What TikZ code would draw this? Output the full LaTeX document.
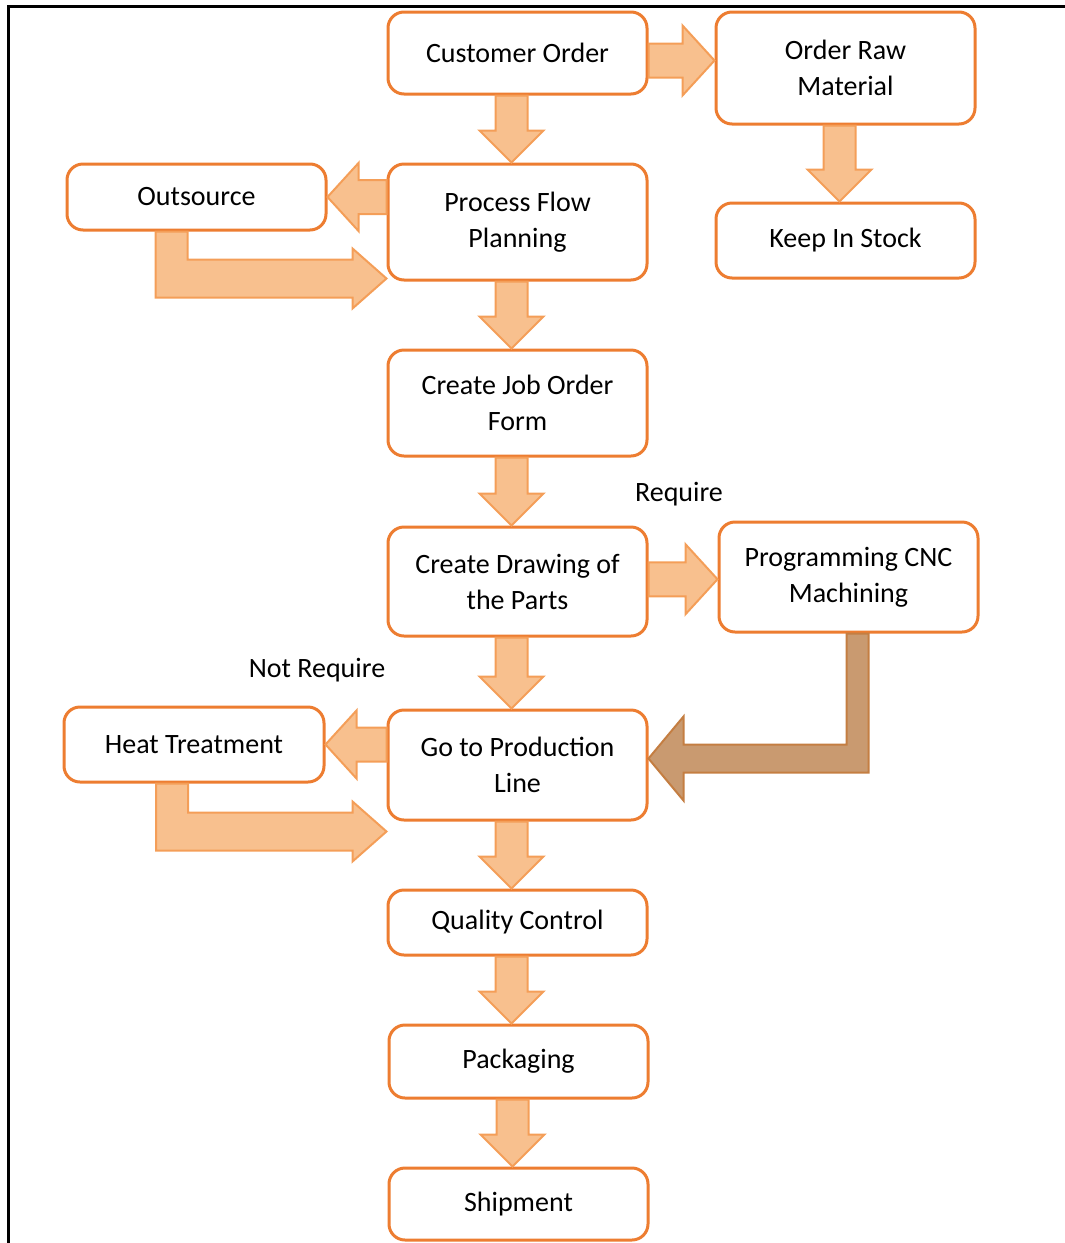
\documentclass[tikz,border=0pt]{standalone}
\usepackage{fontspec}
\setmainfont{Carlito}
\usetikzlibrary{calc}
\definecolor{BoxOrange}{RGB}{237,125,49}
\definecolor{ArrowFill}{RGB}{248,192,142}
\definecolor{ArrowLine}{RGB}{244,158,88}
\definecolor{BackFill}{RGB}{201,154,112}
\definecolor{BackLine}{RGB}{196,126,66}
% block arrows between boxes
\newcommand{\flowdown}[2]{%
\draw[blockarrow] let \p1=($(#1.south)+(-6,0)$), \p2=(#2.north) in
   (\x1-16pt,\y1) -- (\x1-16pt,\y2+32pt) -- (\x1-32pt,\y2+32pt) -- (\x1,\y2)
   -- (\x1+32pt,\y2+32pt) -- (\x1+16pt,\y2+32pt) -- (\x1+16pt,\y1) -- cycle;}
\newcommand{\flowright}[2]{%
\draw[blockarrow] let \p1=(#1.east), \p2=(#2.west), \p3=($(#1.east)!.5!(#2.west)$) in
   (\x1,\y3+17pt) -- (\x2-32pt,\y3+17pt) -- (\x2-32pt,\y3+35pt) -- (\x2,\y3)
   -- (\x2-32pt,\y3-35pt) -- (\x2-32pt,\y3-17pt) -- (\x1,\y3-17pt) -- cycle;}
\newcommand{\flowleft}[2]{%
\draw[blockarrow] let \p1=(#1.west), \p2=(#2.east) in
   (\x1,\y2+17pt) -- (\x2+31pt,\y2+17pt) -- (\x2+31pt,\y2+34pt) -- (\x2,\y2)
   -- (\x2+31pt,\y2-34pt) -- (\x2+31pt,\y2-17pt) -- (\x1,\y2-17pt) -- cycle;}
\newcommand{\flowelbow}[4]{%
\draw[blockarrow] let \p1=($(#1.south)+(#3,0)$), \p2=($(#2.south west)+(0,#4)$) in
   (\x1-16pt,\y1) -- (\x1-16pt,\y2-19pt) -- (\x2-34pt,\y2-19pt) -- (\x2-34pt,\y2-30pt)
   -- (\x2,\y2) -- (\x2-34pt,\y2+30pt) -- (\x2-34pt,\y2+19pt) -- (\x1+16pt,\y2+19pt)
   -- (\x1+16pt,\y1) -- cycle;}
\newcommand{\flowback}[4]{%
\draw[backarrow] let \p1=($(#1.south)+(#3,0)$), \p2=($(#2.east)+(0,#4)$) in
   (\x1-11pt,\y1) -- (\x1-11pt,\y2+14pt) -- (\x2+35pt,\y2+14pt) -- (\x2+35pt,\y2+42pt)
   -- (\x2,\y2) -- (\x2+35pt,\y2-42pt) -- (\x2+35pt,\y2-14pt) -- (\x1+11pt,\y2-14pt)
   -- (\x1+11pt,\y1) -- cycle;}

\begin{document}
\begin{tikzpicture}[x=1pt,y=-1pt,
   box/.style={draw=BoxOrange,line width=3pt,rounded corners=16pt,fill=white,
      minimum width=259pt,inner sep=2pt,align=center,font=\fontsize{28}{36}\selectfont},
   blockarrow/.style={draw=ArrowLine,fill=ArrowFill,line width=2pt},
   backarrow/.style={draw=BackLine,fill=BackFill,line width=2pt},
   lbl/.style={font=\fontsize{28}{36}\selectfont}]
\useasboundingbox (0,0) rectangle (1065,1243);
\draw[line width=3pt] (8,1243) -- (8,6) -- (1065,6);
% boxes
\node[box,minimum height=82pt] (cust) at (517.5,53) {Customer Order};
\node[box,minimum height=112pt] (raw) at (845.5,68) {Order Raw\\Material};
\node[box,minimum height=75pt] (stock) at (845.5,240.5) {Keep In Stock};
\node[box,minimum height=66pt] (outs) at (196.5,197) {Outsource};
\node[box,minimum height=116pt] (plan) at (517.5,222) {Process Flow\\Planning};
\node[box,minimum height=106pt] (job) at (517.5,403) {Create Job Order\\Form};
\node[box,minimum height=109pt] (drw) at (517.5,581.5) {Create Drawing of\\the Parts};
\node[box,minimum height=110pt] (cnc) at (848.5,577) {Programming CNC\\Machining};
\node[box,minimum height=110pt] (prod) at (517.5,765) {Go to Production\\Line};
\node[box,minimum height=75pt,minimum width=260pt] (heat) at (194,744.5) {Heat Treatment};
\node[box,minimum height=65pt] (qc) at (517.5,922.5) {Quality Control};
\node[box,minimum height=73pt] (pack) at (518.5,1061.5) {Packaging};
\node[box,minimum height=72pt] (ship) at (518.5,1204) {Shipment};
% labels
\node[lbl] (req) at (679,494) {Require};
\node[lbl] (noreq) at (317,670) {Not Require};
% arrows
\flowright{cust}{raw}
\flowdown{raw}{stock}
\flowdown{cust}{plan}
\flowleft{plan}{outs}
\flowelbow{outs}{plan}{-25}{-3}
\flowdown{plan}{job}
\flowdown{job}{drw}
\flowright{drw}{cnc}
\flowdown{drw}{prod}
\flowback{cnc}{prod}{9}{-6.5}
\flowleft{prod}{heat}
\flowelbow{heat}{prod}{-22}{10}
\flowdown{prod}{qc}
\flowdown{qc}{pack}
\flowdown{pack}{ship}
\end{tikzpicture}
\end{document}
